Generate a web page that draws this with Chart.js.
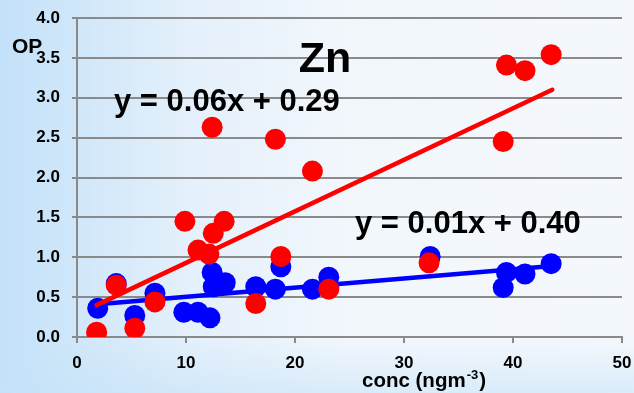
<!DOCTYPE html>
<html>
<head>
<meta charset="utf-8">
<script src="https://cdn.jsdelivr.net/npm/chart.js@4"></script>
<style>
  html, body { margin: 0; padding: 0; }
  body {
    width: 634px; height: 393px; overflow: hidden;
    background:
      linear-gradient(to bottom, rgba(255,255,255,0) 86%, rgba(196,226,248,0.55) 100%),
      linear-gradient(to right, #c3e1f9 0%, #e4f0fb 30%, #f2f7fc 55%, #f4f8fc 100%);
  }
  #wrap { width: 634px; height: 393px; position: relative; }
</style>
</head>
<body>
<div id="wrap"><canvas id="chart"></canvas></div>
<script>
// Zn samples: concentration (ngm-3) vs OP
const redX  = [1.8, 3.6, 5.3, 7.15, 9.9, 11.1, 12.1, 12.5, 13.5, 12.4, 16.4, 18.2, 18.7, 21.6, 23.1, 32.3, 39.1, 39.4, 41.1, 43.5];
const redY  = [0.06, 0.65, 0.11, 0.44, 1.45, 1.09, 1.04, 1.30, 1.45, 2.63, 0.42, 2.48, 1.01, 2.08, 0.60, 0.93, 2.45, 3.41, 3.34, 3.54];
const blueX = [1.9, 3.6, 5.3, 7.15, 9.8, 11.1, 12.2, 12.4, 12.5, 13.6, 16.4, 18.2, 18.7, 21.6, 23.1, 23.1, 32.4, 39.1, 39.4, 41.1, 43.5];
const blueY = [0.36, 0.67, 0.27, 0.55, 0.31, 0.31, 0.24, 0.81, 0.63, 0.68, 0.63, 0.60, 0.88, 0.60, 0.75, 0.62, 1.01, 0.62, 0.81, 0.79, 0.92];

// trend line end points, as drawn
const redTrendX  = [1.8, 43.6];
const redTrendY  = [0.40, 3.10];
const blueTrendX = [1.9, 43.6];
const blueTrendY = [0.41, 0.89];

const redEq = 'y = 0.06x + 0.29';
const blueEq = 'y = 0.01x + 0.40';
const chartLabel = 'Zn';

const toPts = (xs, ys) => xs.map((x, i) => ({ x: x, y: ys[i] }));

const FONT = "'Liberation Sans', Arial, sans-serif";

// free text on the chart: title, equations, axis titles
const textPlugin = {
  id: 'texts',
  afterDraw(chart) {
    const ctx = chart.ctx;
    ctx.save();
    ctx.fillStyle = '#000';
    ctx.textBaseline = 'alphabetic';

    ctx.font = 'bold 43px ' + FONT;
    ctx.textAlign = 'center';
    ctx.fillText(chartLabel, 325, 72);

    ctx.textAlign = 'left';
    ctx.font = 'bold 31px ' + FONT;
    ctx.fillText(redEq, 114, 111);
    ctx.fillText(blueEq, 355, 233);

    ctx.font = 'bold 21px ' + FONT;
    ctx.fillText('OP', 12, 53);

    // x axis title with superscript
    let x = 362;
    ctx.font = 'bold 20.5px ' + FONT;
    ctx.fillText('conc (ngm', x, 387);
    x += ctx.measureText('conc (ngm').width + 1;
    ctx.font = 'bold 13px ' + FONT;
    ctx.fillText('-3', x, 379);
    x += ctx.measureText('-3').width + 1;
    ctx.font = 'bold 20.5px ' + FONT;
    ctx.fillText(')', x, 387);
    ctx.restore();
  }
};

new Chart(document.getElementById('chart'), {
  type: 'scatter',
  data: {
    datasets: [
      {
        label: 'OP red',
        data: toPts(redX, redY),
        backgroundColor: '#ff0000',
        borderColor: '#ff0000',
        borderWidth: 0,
        pointRadius: 10.5,
        pointHoverRadius: 10.5
      },
      {
        label: 'red trend',
        data: toPts(redTrendX, redTrendY),
        showLine: true,
        borderColor: '#ff0000',
        borderWidth: 4.5,
        borderCapStyle: 'round',
        pointRadius: 0
      },
      {
        label: 'blue trend',
        data: toPts(blueTrendX, blueTrendY),
        showLine: true,
        borderColor: '#0000ff',
        borderWidth: 4.5,
        borderCapStyle: 'round',
        pointRadius: 0
      },
      {
        label: 'OP blue',
        data: toPts(blueX, blueY),
        backgroundColor: '#0000ff',
        borderColor: '#0000ff',
        borderWidth: 0,
        pointRadius: 10.5,
        pointHoverRadius: 10.5
      }
    ]
  },
  options: {
    responsive: true,
    maintainAspectRatio: false,
    animation: false,
    layout: { padding: 0 },
    plugins: {
      legend: { display: false },
      tooltip: { enabled: false }
    },
    scales: {
      x: {
        min: 0,
        max: 50,
        afterFit: s => { s.height = 56; s.paddingLeft = 0; s.paddingRight = 12; },
        ticks: {
          stepSize: 10,
          color: '#000',
          padding: 10,
          font: { family: FONT, size: 17, weight: 'bold' }
        },
        grid: {
          drawOnChartArea: false,
          drawTicks: true,
          tickLength: 6,
          color: '#8a8a8a',
          lineWidth: 2
        },
        border: { color: '#8a8a8a', width: 2 }
      },
      y: {
        min: 0,
        max: 4,
        afterFit: s => { s.width = 77; s.paddingTop = 18; s.paddingBottom = 0; },
        ticks: {
          stepSize: 0.5,
          color: '#000',
          padding: 12,
          font: { family: FONT, size: 17, weight: 'bold' },
          callback: v => v.toFixed(1)
        },
        grid: {
          color: '#8a8a8a',
          lineWidth: 2,
          tickLength: 5
        },
        border: { color: '#8a8a8a', width: 2 }
      }
    }
  },
  plugins: [textPlugin]
});
</script>
</body>
</html>
